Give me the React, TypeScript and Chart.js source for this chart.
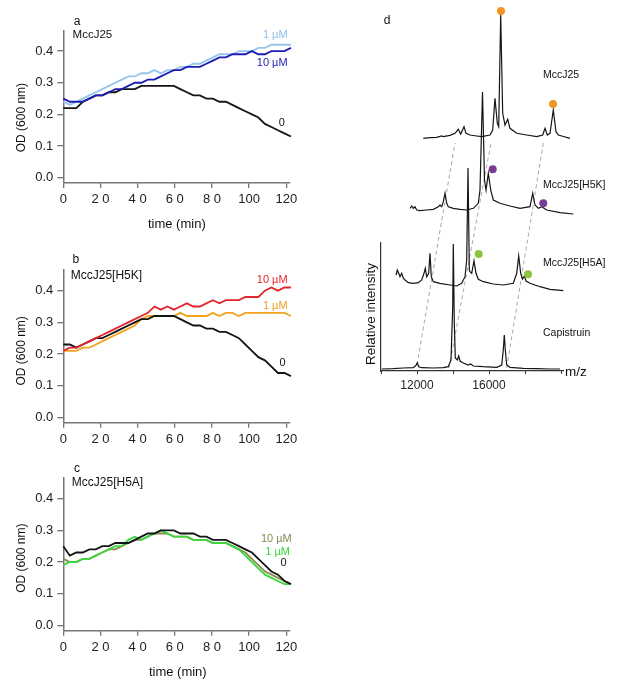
import React, { useEffect, useRef } from "react";
import { Chart, registerables } from "chart.js";
Chart.register(...registerables);

const FONT = "'Liberation Sans', Arial, Helvetica, sans-serif";

// ---------- Growth curves (panels a, b, c) ----------
const timeMin = [0, 3.5, 7, 10.5, 14, 17.5, 21, 24.5, 28, 31.5, 35, 38.5, 42, 45.5, 49, 52.5, 56, 59.5, 63, 66.5, 70, 73.5, 77, 80.5, 84, 87.5, 91, 94.5, 98, 101.5, 105, 108.5, 112, 115.5, 119, 122.5];
const xTickValues = [0, 20, 40, 60, 80, 100, 120];
const xTickLabels = ["0", "2 0", "4 0", "6 0", "8 0", "100", "120"];
const yTickValues = [0, 0.1, 0.2, 0.3, 0.4];
const yTickLabels = ["0.0", "0.1", "0.2", "0.3", "0.4"];

// panel a: MccJ25
const odA0 = [0.22,0.22,0.22,0.24,0.25,0.26,0.26,0.27,0.27,0.28,0.28,0.28,0.29,0.29,0.29,0.29,0.29,0.29,0.28,0.27,0.26,0.26,0.25,0.25,0.24,0.24,0.23,0.22,0.21,0.20,0.19,0.17,0.16,0.15,0.14,0.13];
const odA1 = [0.24,0.23,0.24,0.25,0.26,0.27,0.28,0.29,0.30,0.31,0.32,0.32,0.33,0.33,0.34,0.33,0.34,0.34,0.35,0.35,0.36,0.36,0.37,0.38,0.39,0.39,0.39,0.40,0.40,0.40,0.41,0.41,0.42,0.42,0.42,0.42];
const odA10 = [0.25,0.24,0.24,0.24,0.25,0.26,0.26,0.27,0.28,0.28,0.29,0.30,0.30,0.31,0.31,0.32,0.33,0.34,0.34,0.35,0.35,0.35,0.36,0.37,0.38,0.38,0.39,0.39,0.39,0.40,0.39,0.39,0.40,0.40,0.40,0.41];
// panel b: MccJ25[H5K]
const odB0 = [0.23,0.23,0.22,0.23,0.24,0.25,0.25,0.26,0.27,0.28,0.29,0.30,0.31,0.31,0.32,0.32,0.32,0.32,0.31,0.30,0.29,0.29,0.28,0.28,0.27,0.27,0.26,0.25,0.23,0.21,0.19,0.18,0.16,0.14,0.14,0.13];
const odB1 = [0.21,0.21,0.21,0.22,0.22,0.23,0.24,0.25,0.26,0.27,0.28,0.29,0.31,0.32,0.32,0.32,0.32,0.32,0.33,0.32,0.32,0.32,0.32,0.33,0.32,0.33,0.33,0.32,0.33,0.33,0.33,0.33,0.33,0.33,0.33,0.32];
const odB10 = [0.21,0.22,0.22,0.23,0.24,0.25,0.26,0.27,0.28,0.29,0.30,0.31,0.32,0.33,0.35,0.34,0.35,0.34,0.35,0.36,0.35,0.35,0.36,0.37,0.36,0.37,0.37,0.37,0.38,0.38,0.38,0.40,0.41,0.40,0.41,0.41];
// panel c: MccJ25[H5A]
const odC0 = [0.25,0.22,0.23,0.23,0.24,0.24,0.25,0.25,0.26,0.26,0.26,0.27,0.28,0.29,0.29,0.30,0.30,0.30,0.29,0.29,0.29,0.28,0.28,0.27,0.27,0.27,0.26,0.25,0.24,0.23,0.21,0.19,0.17,0.16,0.14,0.13];
const odC1 = [0.19,0.20,0.20,0.21,0.21,0.22,0.23,0.24,0.25,0.25,0.27,0.28,0.27,0.28,0.29,0.30,0.29,0.28,0.28,0.28,0.27,0.27,0.27,0.26,0.26,0.26,0.25,0.24,0.22,0.20,0.18,0.16,0.15,0.14,0.13,0.13];
const odC10 = [0.21,0.20,0.20,0.21,0.21,0.22,0.23,0.24,0.24,0.25,0.26,0.27,0.27,0.28,0.29,0.29,0.29,0.28,0.28,0.28,0.27,0.27,0.27,0.26,0.26,0.26,0.25,0.24,0.23,0.21,0.19,0.17,0.16,0.15,0.14,0.13];

// ---------- Mass spectra (panel d): [m/z, relative intensity] ----------
const capistruinTrace = [[10039,0],[10683,0.3],[11239,1],[11794,1.3],[11944,3.7],[12017,6.3],[12094,2.3],[12261,1.3],[12906,1],[13461,1.3],[13739,2.3],[13889,9],[13983,62],[14017,125],[14072,46],[14128,11],[14239,9],[14317,13],[14389,8],[14572,6],[14850,4],[14983,5],[15128,3],[15683,2.3],[16428,1.7],[16706,4],[16794,19],[16850,34],[16906,19],[16983,4],[17167,1.7],[17906,0.7],[18650,0.3],[19389,0],[19944,0]];
const h5aTrace = [[10056,10],[10128,15],[10206,11.7],[10278,8.3],[10372,11.7],[10461,6.7],[10556,5],[10739,2.3],[11017,1.7],[11294,2.3],[11483,5],[11611,11.7],[11683,16.7],[11761,8.3],[11872,11.7],[11944,31.7],[12017,8.3],[12128,3.3],[12500,1.7],[13056,0],[13428,-1],[13706,1.7],[13889,8.3],[13983,25],[14056,117],[14128,15],[14167,13.3],[14261,11.7],[14389,24.3],[14500,11.7],[14628,5.7],[14906,3.3],[15461,1],[16017,0],[16572,1.7],[16761,11.7],[16872,29],[16983,11.7],[17083,6],[17194,9],[17278,4],[17500,1.7],[18056,-1.7],[18611,-4.3],[19350,-5.7],[20094,-6.7]];
const h5kTrace = [[10056,1.7],[10150,4],[10239,1.7],[10333,3.3],[10428,0],[10611,-0.7],[10983,0],[11350,0.7],[11628,3.3],[11722,5],[11817,3.3],[11906,8.3],[12000,16.7],[12094,6.7],[12183,3.3],[12461,1.7],[12833,0.7],[13206,0],[13572,1.7],[13850,6.7],[13944,20],[14083,118],[14194,30],[14278,20],[14406,36.7],[14539,20],[14683,10],[15056,6.7],[15611,4],[16167,1.7],[16722,3.3],[16872,16.7],[17000,5],[17183,1.7],[17372,3.3],[17650,0],[18389,-2.7],[19128,-4],[20056,-5.3]];
const mccj25Trace = [[10017,-0.8],[10389,-0.2],[10761,0.2],[11039,1.5],[11128,0.8],[11500,2.2],[11778,4.2],[11961,8.2],[12094,3.5],[12278,10.8],[12389,4.2],[12611,2.5],[12983,1.5],[13261,0.8],[13722,2.5],[13872,7.5],[14000,39.2],[14128,14.2],[14206,10.8],[14317,122.5],[14428,24.2],[14556,12.5],[14706,18.2],[14833,9.2],[15206,4.2],[15761,2.5],[16317,0.8],[16650,2.5],[16778,9.2],[16906,2.5],[17056,4.2],[17239,27.5],[17389,5.8],[17517,2.5],[17706,1.5],[18167,-0.8],[18906,-1.8],[19650,-2.5],[20017,-3.2]];
const mccj25Marks = [[14333,126.5],[17222,33.5]];
const h5kMarks = [[14650,40.7],[17461,6.7]];
const h5aMarks = [[14650,31],[17389,10.7]];
const spectrumNames = ["Capistruin", "MccJ25[H5A]", "MccJ25[H5K]", "MccJ25"];
const mzTickValues = [10000, 12000, 14000, 16000, 18000, 20000];
const mzTickLabels = ["", "12000", "", "16000", "", ""];
// pseudo-3D stacking shifts (m/z, intensity) for each trace, bottom to top
const stackShiftMz = [0, 778, 1556, 2333];
const stackShiftInt = [2, 86, 161, 233.5];
// dashed guide lines linking corresponding peaks (stacked frame)
const guideLines = [
  [[12000, 6], [14111, 228]],
  [[13778, 3], [16111, 228]],
  [[16983, 3], [19017, 228]],
];

type TextItem = { text: string; x: number; y: number; size: number; color?: string; align?: CanvasTextAlign; rotate?: number };
type MarkItem = { x: number; y: number; r: number; color: string };

function makeTextPlugin(items: TextItem[], marks: MarkItem[] = []) {
  return {
    id: "textLabels",
    afterDatasetsDraw(chart: any) {
      const ctx = chart.ctx;
      const xs = chart.scales.x;
      const ys = chart.scales.y;
      marks.forEach((m) => {
        ctx.save();
        ctx.beginPath();
        ctx.arc(xs.getPixelForValue(m.x), ys.getPixelForValue(m.y), m.r, 0, Math.PI * 2);
        ctx.fillStyle = m.color;
        ctx.fill();
        ctx.restore();
      });
    },
    afterDraw(chart: any) {
      const ctx = chart.ctx;
      const xs = chart.scales.x;
      const ys = chart.scales.y;
      items.forEach((it) => {
        const px = xs.getPixelForValue(it.x);
        const py = ys.getPixelForValue(it.y);
        ctx.save();
        ctx.font = `${it.size}px ${FONT}`;
        ctx.fillStyle = it.color || "#111";
        ctx.textAlign = it.align || "left";
        ctx.textBaseline = "middle";
        ctx.translate(px, py);
        if (it.rotate) ctx.rotate((it.rotate * Math.PI) / 180);
        ctx.fillText(it.text, 0, 0);
        ctx.restore();
      });
    },
  };
}

const CANVAS_H = 241;
const AREA_H = 152.6;
const AXIS_GRAY = "#767676";

function growthConfig(series: { data: number[]; color: string }[], texts: TextItem[], areaTop: number) {
  const areaBottom = areaTop + AREA_H;
  return {
    type: "line" as const,
    data: {
      datasets: series.map((s) => ({
        data: timeMin.map((t, i) => ({ x: t, y: s.data[i] })),
        borderColor: s.color,
        borderWidth: 1.8,
        pointRadius: 0,
        tension: 0,
        fill: false,
        clip: false as any,
      })),
    },
    options: {
      animation: false as const,
      responsive: false,
      maintainAspectRatio: false,
      layout: { padding: { left: 0, right: 20, top: areaTop, bottom: 0 } },
      plugins: { legend: { display: false }, tooltip: { enabled: false } },
      scales: {
        x: {
          type: "linear" as const,
          min: 0,
          max: 122,
          afterBuildTicks: (ax: any) => {
            ax.ticks = xTickValues.map((v) => ({ value: v }));
          },
          afterFit: (s: any) => {
            s.height = CANVAS_H - areaBottom;
          },
          ticks: {
            callback: (v: any) => xTickLabels[xTickValues.indexOf(Number(v))] ?? "",
            font: { family: FONT, size: 13 },
            color: "#222",
            padding: 4,
            maxRotation: 0,
            autoSkip: false,
          },
          grid: { display: true, drawOnChartArea: false, drawTicks: true, tickLength: 5, color: AXIS_GRAY, lineWidth: 1.3 },
          border: { display: true, color: AXIS_GRAY, width: 1.5 },
        },
        y: {
          type: "linear" as const,
          min: -0.017,
          max: 0.465,
          afterBuildTicks: (ax: any) => {
            ax.ticks = yTickValues.map((v) => ({ value: v }));
          },
          afterFit: (s: any) => {
            s.width = 63.3;
          },
          ticks: {
            callback: (v: any) => {
              const i = yTickValues.findIndex((t) => Math.abs(t - Number(v)) < 1e-6);
              return i >= 0 ? yTickLabels[i] : "";
            },
            font: { family: FONT, size: 13 },
            color: "#222",
            padding: 4,
          },
          grid: { display: true, drawOnChartArea: false, drawTicks: true, tickLength: 6, color: AXIS_GRAY, lineWidth: 1.3 },
          border: { display: true, color: AXIS_GRAY, width: 1.5 },
        },
      },
    },
    plugins: [makeTextPlugin(texts)],
  };
}

function spectraConfig() {
  const traces = [capistruinTrace, h5aTrace, h5kTrace, mccj25Trace];
  const markGroups = [
    { pts: h5aMarks, idx: 1, color: "#8cc43f" },
    { pts: h5kMarks, idx: 2, color: "#7a3d96" },
    { pts: mccj25Marks, idx: 3, color: "#f39324" },
  ];
  const marks: MarkItem[] = [];
  markGroups.forEach((g) =>
    g.pts.forEach(([mz, v]) => marks.push({ x: mz + stackShiftMz[g.idx], y: v + stackShiftInt[g.idx], r: 4, color: g.color }))
  );
  const traceSets = traces.map((tr, k) => ({
    data: tr.map(([mz, v]) => ({ x: mz + stackShiftMz[k], y: v + stackShiftInt[k] })),
    borderColor: "#151515",
    borderWidth: 1.2,
    pointRadius: 0,
    tension: 0,
    fill: false,
    clip: false as any,
  }));
  const guideSets = guideLines.map((g) => ({
    data: g.map(([mz, v]) => ({ x: mz, y: v })),
    borderColor: "#a8a8a8",
    borderWidth: 1,
    borderDash: [4, 3],
    pointRadius: 0,
    fill: false,
    clip: false as any,
  }));
  const nameY = [38, 108, 186, 296];
  const texts: TextItem[] = [
    { text: "d", x: 10333, y: 350, size: 12, align: "center" },
    ...spectrumNames.map((n, i) => ({ text: n, x: 19000, y: nameY[i], size: 10.5 })),
    { text: "m/z", x: 20222, y: -1, size: 13.5 },
    { text: "Relative intensity", x: 9483, y: 57, size: 13.5, align: "center" as CanvasTextAlign, rotate: -90 },
  ];
  return {
    type: "line" as const,
    data: { datasets: [...traceSets, ...guideSets] },
    options: {
      animation: false as const,
      responsive: false,
      maintainAspectRatio: false,
      layout: { padding: { left: 31, right: 57, top: 243, bottom: 0 } },
      plugins: { legend: { display: false }, tooltip: { enabled: false } },
      scales: {
        x: {
          type: "linear" as const,
          min: 10000,
          max: 20111,
          afterBuildTicks: (ax: any) => {
            ax.ticks = mzTickValues.map((v) => ({ value: v }));
          },
          afterFit: (s: any) => {
            s.height = 29;
          },
          ticks: {
            callback: (v: any) => mzTickLabels[mzTickValues.indexOf(Number(v))] ?? "",
            font: { family: FONT, size: 12 },
            color: "#222",
            padding: 4,
            maxRotation: 0,
            autoSkip: false,
          },
          grid: { display: true, drawOnChartArea: false, drawTicks: true, tickLength: 3, color: "#333", lineWidth: 1 },
          border: { display: true, color: "#333", width: 1.2 },
        },
        y: {
          type: "linear" as const,
          min: 0,
          max: 128,
          afterFit: (s: any) => {
            s.width = 20;
          },
          ticks: { display: false },
          grid: { display: true, drawOnChartArea: false, drawTicks: false, color: "rgba(0,0,0,0)" },
          border: { display: true, color: "#333", width: 1.2 },
        },
      },
    },
    plugins: [makeTextPlugin(texts, marks)],
  };
}

const BLACK = "#141414";

export default function App() {
  const aRef = useRef<HTMLCanvasElement>(null);
  const bRef = useRef<HTMLCanvasElement>(null);
  const cRef = useRef<HTMLCanvasElement>(null);
  const dRef = useRef<HTMLCanvasElement>(null);

  useEffect(() => {
    const charts: Chart[] = [];
    const cfgA = growthConfig(
      [
        { data: odA10, color: "#1c1cb6" },
        { data: odA1, color: "#94c6ee" },
        { data: odA0, color: BLACK },
      ],
      [
        { text: "a", x: 7.4, y: 0.493, size: 12, align: "center" },
        { text: "MccJ25", x: 5.0, y: 0.451, size: 11.5 },
        { text: "1 µM", x: 120.7, y: 0.451, size: 11, align: "right", color: "#8cc0ea" },
        { text: "10 µM", x: 120.7, y: 0.362, size: 11, align: "right", color: "#1c1cb6" },
        { text: "0", x: 119.3, y: 0.174, size: 11, align: "right" },
        { text: "OD (600 nm)", x: -22.3, y: 0.19, size: 12, align: "center", rotate: -90 },
        { text: "time (min)", x: 61.1, y: -0.149, size: 13, align: "center" },
      ],
      30.5
    );
    const cfgB = growthConfig(
      [
        { data: odB10, color: "#e3262d" },
        { data: odB0, color: BLACK },
        { data: odB1, color: "#f4a31c" },
      ],
      [
        { text: "b", x: 6.8, y: 0.497, size: 12, align: "center" },
        { text: "MccJ25[H5K]", x: 4.0, y: 0.447, size: 12 },
        { text: "10 µM", x: 120.7, y: 0.434, size: 11, align: "right", color: "#e3262d" },
        { text: "1 µM", x: 120.7, y: 0.353, size: 11, align: "right", color: "#f0a020" },
        { text: "0", x: 119.6, y: 0.171, size: 11, align: "right" },
        { text: "OD (600 nm)", x: -22.3, y: 0.21, size: 12, align: "center", rotate: -90 },
      ],
      30.1
    );
    const cfgC = growthConfig(
      [
        { data: odC0, color: BLACK },
        { data: odC1, color: "#3ad63a" },
        { data: odC10, color: "#8d8a50" },
      ],
      [
        { text: "c", x: 7.4, y: 0.495, size: 12, align: "center" },
        { text: "MccJ25[H5A]", x: 4.6, y: 0.45, size: 12 },
        { text: "10 µM", x: 122.9, y: 0.272, size: 11, align: "right", color: "#8a8a55" },
        { text: "1 µM", x: 122.0, y: 0.233, size: 11, align: "right", color: "#33dd33" },
        { text: "0", x: 120.2, y: 0.198, size: 11, align: "right" },
        { text: "OD (600 nm)", x: -22.3, y: 0.212, size: 12, align: "center", rotate: -90 },
        { text: "time (min)", x: 61.6, y: -0.15, size: 13, align: "center" },
      ],
      30.1
    );
    if (aRef.current) charts.push(new Chart(aRef.current, cfgA as any));
    if (bRef.current) charts.push(new Chart(bRef.current, cfgB as any));
    if (cRef.current) charts.push(new Chart(cRef.current, cfgC as any));
    if (dRef.current) charts.push(new Chart(dRef.current, spectraConfig() as any));
    return () => charts.forEach((c) => c.destroy());
  }, []);

  const abs = (left: number, top: number): React.CSSProperties => ({ position: "absolute", left, top });
  return (
    <div style={{ position: "fixed", left: 0, top: 0, width: 620, height: 689, background: "#fff", overflow: "hidden" }}>
      <canvas ref={aRef} width={310} height={CANVAS_H} style={abs(0, 0)} />
      <canvas ref={bRef} width={310} height={CANVAS_H} style={abs(0, 240)} />
      <canvas ref={cRef} width={310} height={CANVAS_H} style={abs(0, 448)} />
      <canvas ref={dRef} width={290} height={400} style={abs(330, 0)} />
    </div>
  );
}
